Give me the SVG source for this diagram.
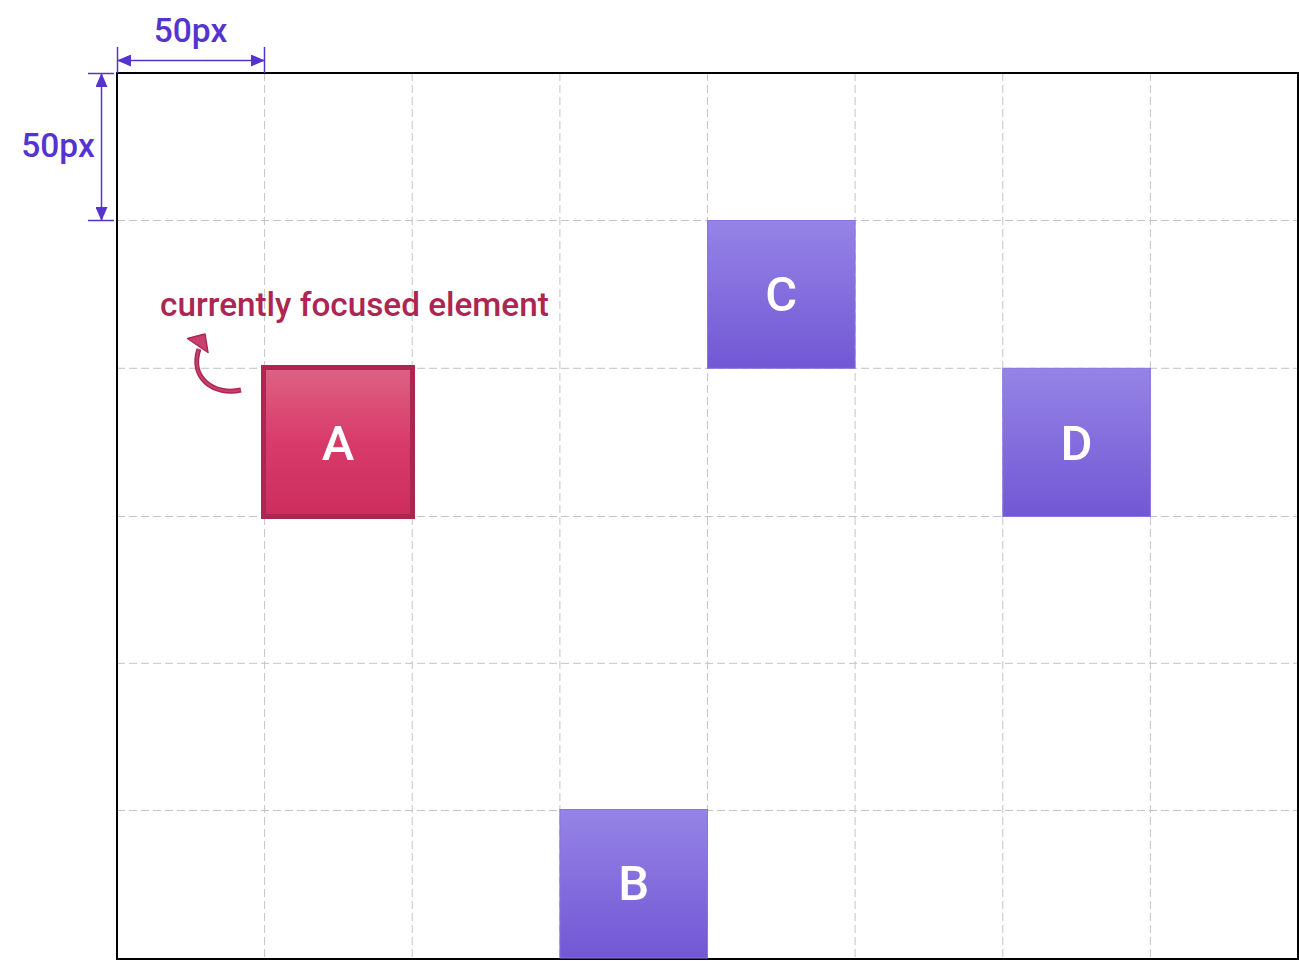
<svg xmlns="http://www.w3.org/2000/svg" width="1299" height="961" viewBox="0 0 1299 961">
<defs>
<linearGradient id="gPurple" x1="0" y1="0" x2="0" y2="1">
<stop offset="0" stop-color="#9584e6"/>
<stop offset="1" stop-color="#7257d4"/>
</linearGradient>
<linearGradient id="gRed" x1="0" y1="0" x2="0" y2="1">
<stop offset="0" stop-color="#dc6283"/>
<stop offset="0.5" stop-color="#d83b6a"/>
<stop offset="1" stop-color="#cc2d5d"/>
</linearGradient>
<marker id="dimArrow" viewBox="0 0 14 12" refX="13" refY="6" markerWidth="14" markerHeight="12" markerUnits="userSpaceOnUse" orient="auto-start-reverse">
<path d="M0,0 L14,6 L0,12 Z" fill="#5533d1"/>
</marker>
</defs>
<style>
.grid{stroke:#c4c4c4;stroke-width:1;stroke-dasharray:8 4;fill:none}
.dim{stroke:#5533d1;stroke-width:1.5;fill:none}
.dimtext{font-family:Roboto,"Liberation Sans",sans-serif;font-weight:500;font-size:33.5px;fill:#5533d1}
.box{fill:url(#gPurple);stroke:#8a72e4;stroke-width:1}
.lbl{font-family:Roboto,"Liberation Sans",sans-serif;font-weight:500;font-size:49px;fill:#ffffff;text-anchor:middle}
</style>
<rect x="0" y="0" width="1299" height="961" fill="#ffffff"/>
<g id="grid">
<line class="grid" x1="264.6" y1="73" x2="264.6" y2="959"/>
<line class="grid" x1="412.2" y1="73" x2="412.2" y2="959"/>
<line class="grid" x1="559.9" y1="73" x2="559.9" y2="959"/>
<line class="grid" x1="707.5" y1="73" x2="707.5" y2="959"/>
<line class="grid" x1="855.1" y1="73" x2="855.1" y2="959"/>
<line class="grid" x1="1002.8" y1="73" x2="1002.8" y2="959"/>
<line class="grid" x1="1150.4" y1="73" x2="1150.4" y2="959"/>
<line class="grid" x1="117" y1="220.5" x2="1298" y2="220.5"/>
<line class="grid" x1="117" y1="368.3" x2="1298" y2="368.3"/>
<line class="grid" x1="117" y1="516.5" x2="1298" y2="516.5"/>
<line class="grid" x1="117" y1="663.3" x2="1298" y2="663.3"/>
<line class="grid" x1="117" y1="810.5" x2="1298" y2="810.5"/>
</g>
<rect x="117" y="73" width="1181" height="886" fill="none" stroke="#000000" stroke-width="2"/>
<g id="dimensions">
<line class="dim" x1="117.5" y1="47" x2="117.5" y2="73"/>
<line class="dim" x1="264.5" y1="47" x2="264.5" y2="73"/>
<line class="dim" x1="118" y1="60.5" x2="264" y2="60.5" marker-start="url(#dimArrow)" marker-end="url(#dimArrow)"/>
<text class="dimtext" x="190.5" y="42" text-anchor="middle">50px</text>
<line class="dim" x1="88" y1="73.5" x2="114" y2="73.5"/>
<line class="dim" x1="88" y1="220.5" x2="114" y2="220.5"/>
<line class="dim" x1="101.5" y1="74" x2="101.5" y2="220" marker-start="url(#dimArrow)" marker-end="url(#dimArrow)"/>
<text class="dimtext" x="58" y="157" text-anchor="middle">50px</text>
</g>
<g id="node-C">
<rect class="box" x="707.5" y="220.5" width="147.6" height="147.8"/>
<text class="lbl" x="781.3" y="311">C</text>
</g>
<g id="node-D">
<rect class="box" x="1002.8" y="368.3" width="147.6" height="148.2"/>
<text class="lbl" x="1076.6" y="460">D</text>
</g>
<g id="node-B">
<rect class="box" x="559.9" y="809.5" width="147.6" height="148.5"/>
<text class="lbl" x="633.7" y="900">B</text>
</g>
<g id="node-A">
<rect x="263.5" y="367.5" width="149" height="149" fill="url(#gRed)" stroke="#ac2651" stroke-width="5"/>
<text class="lbl" x="338" y="460">A</text>
</g>
<g id="annotation">
<text x="160" y="316" font-family="Roboto,'Liberation Sans',sans-serif" font-weight="500" font-size="33.3px" fill="#ac2651">currently focused element</text>
<path d="M241,390 C214,396 189,378 199,349" fill="none" stroke="#ac2651" stroke-width="5" stroke-linecap="butt"/>
<path d="M241,390 C214,396 189,378 199,349" fill="none" stroke="#c8406e" stroke-width="2" stroke-linecap="butt"/>
<path d="M187.5,338.5 L205,334 L208,352.5 Z" fill="#c8406e" stroke="#ac2651" stroke-width="1.5" stroke-linejoin="round"/>
</g>
</svg>
